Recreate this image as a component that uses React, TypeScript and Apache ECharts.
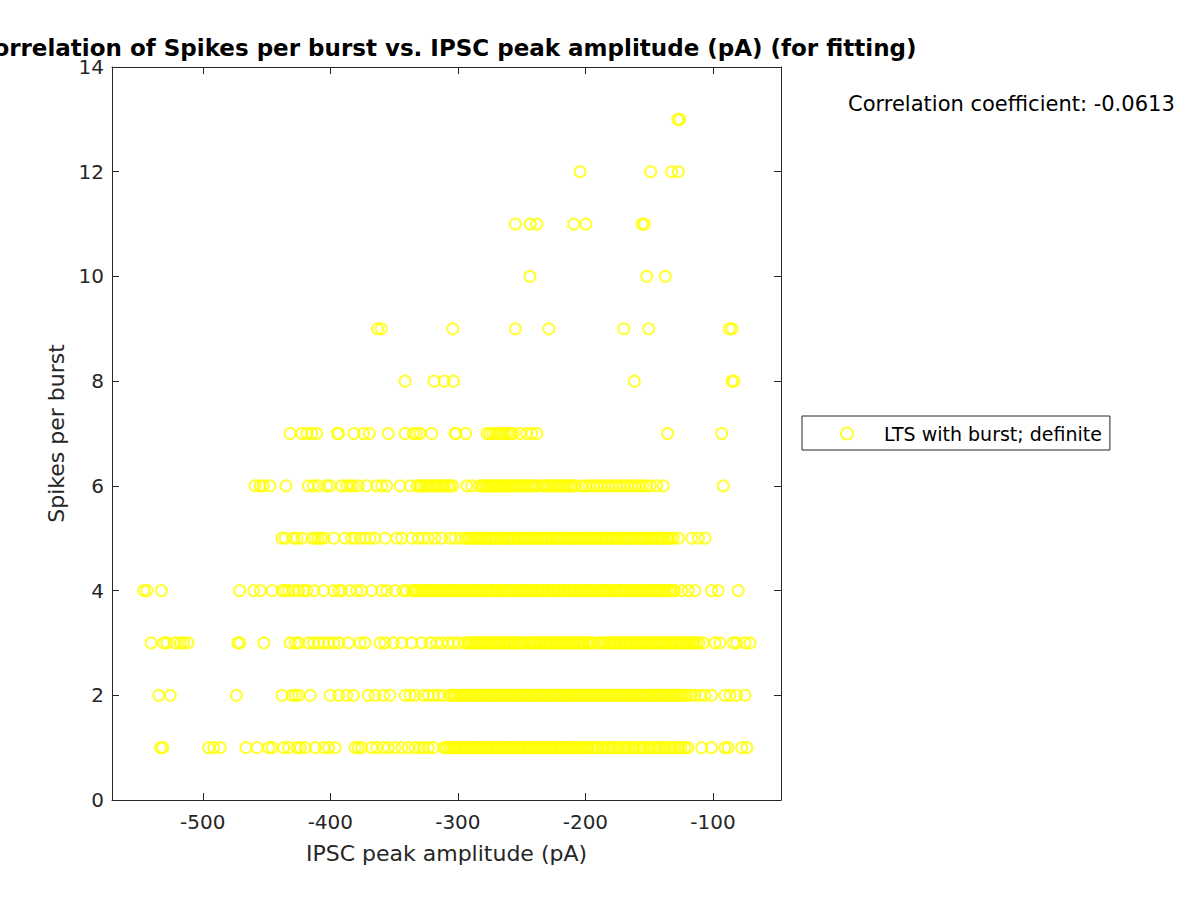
import React, { useEffect, useRef } from "react";
import * as echarts from "echarts";

// ---- Axis ticks ----
const xTickValues = [-500, -400, -300, -200, -100];
const xMin = -571.2;
const xMax = -46.6;
const yMin = 0;
const yMax = 14;
const yInterval = 2;

const titleText = "Correlation of Spikes per burst vs. IPSC peak amplitude (pA) (for fitting)";
const xAxisName = "IPSC peak amplitude (pA)";
const yAxisName = "Spikes per burst";
const seriesName = "LTS with burst; definite";
const corrText = "Correlation coefficient: -0.0613";

// ---- Data: IPSC peak amplitude (pA) values for each spikes-per-burst level ----
const ipscSpikes1 = [
  -533, -531.5, -495.4, -491.4, -486.3, -466.1, -457.5, -448.3, -445.7, -436.6, -432.6, -426.1, -423.5,
  -419.6, -411.7, -405.2, -401.3, -396.3, -380.6, -378.0, -375.4, -367.6, -363.6, -358.4, -354.5, -349.3,
  -344.0, -338.8, -333.6, -329.7, -327.1, -323.2, -319.2,
  -311, -309, -308, -306, -304, -303, -301, -299, -298, -296, -294, -293, -291, -289, -288, -286, -284,
  -283, -281, -279, -278, -276, -274, -273, -271, -269, -268, -266, -264, -263, -261, -259, -258, -256,
  -254, -253, -251, -249, -248, -246, -244, -243, -241, -239, -238, -236, -234, -233, -231, -229, -228,
  -226, -224, -223, -221, -219, -218, -216, -214, -213, -211, -209, -208, -206, -204, -203, -201,
  -199, -197, -194, -192, -190, -187, -185, -182, -180, -178, -175, -173, -170, -168, -166, -163, -161,
  -158, -156, -154, -151, -149, -146, -144, -142, -139, -137, -134, -132, -130, -127, -125, -122,
  -119.6, -108.8, -101.1, -90.6, -88.0, -77.4, -73.4,
];

const ipscSpikes2 = [
  -534.6, -525.5, -473.7, -437.9, -430.0, -427.4, -424.8, -415.7, -400.0, -393.4, -387.1, -381.9, -370.2,
  -365.0, -358.4, -353.2, -341.4, -337.5, -333.6, -327.1, -323.2, -319.2, -315.3, -311.4, -306.1,
  -305, -303, -302, -300, -298, -297, -295, -294, -292, -290, -288, -287, -285, -284, -282, -280, -279,
  -277, -275, -274, -272, -271, -269, -267, -266, -264, -262, -261, -259, -258, -256, -254, -253, -251,
  -249, -248, -246, -245, -243, -241, -240, -238, -236, -235, -233, -232, -230, -228, -227, -225, -223,
  -222, -220, -219, -217, -215, -214, -212, -210, -209, -207, -206, -204, -202, -201, -199, -197, -196,
  -194, -193, -191, -189, -188, -186, -184, -183, -181, -180, -178, -176, -175, -173, -171, -170, -168,
  -167, -165, -163, -162, -160, -158, -157, -155, -154, -152, -150, -149, -147, -145, -144, -142, -141,
  -139, -137, -136, -134, -132, -131, -129, -128, -126, -124, -122, -120, -117, -114,
  -110.1, -106.2, -101.1, -90.6, -86.6, -81.3, -74.8,
];

const ipscSpikes3 = [
  -540.6, -530.7, -528.1, -521.6, -517.6, -515.0, -511.6, -472.5, -471.0, -452.2, -431.4, -427.4, -424.8,
  -417.0, -413.0, -409.1, -405.2, -401.3, -397.3, -393.4, -385.9, -376.7, -372.8, -361.0, -357.1, -350.6,
  -344.0, -336.2, -328.3, -321.8, -316.6, -312.7, -307.4, -303.6, -299.6, -294.4,
  -292, -290, -289, -287, -285, -284, -282, -281, -279, -277, -276, -274, -272, -271, -269, -268, -266,
  -264, -263, -261, -259, -258, -256, -255, -253, -251, -250, -248, -245,
  -243, -241, -240, -238, -236, -235, -233, -231, -230, -228, -227, -225, -223, -222, -220, -218, -217,
  -215, -214, -212, -210, -209, -207, -205, -204, -202, -201, -199, -197, -196, -194,
  -189.8, -187.2,
  -185, -183, -181, -180, -178, -177, -175, -173, -172, -170, -168, -167, -165, -164, -162, -160, -159,
  -157, -155, -154, -152, -151, -149, -147, -146, -144, -142, -141, -139, -138, -136, -134, -133, -131,
  -129, -128, -126, -125, -123, -121, -120, -118, -116, -115, -113, -111,
  -107.5, -98.3, -94.4, -84.0, -81.3, -74.8, -70.9,
];

const ipscSpikes4 = [
  -546.3, -543.8, -532.5, -471.1, -460.1, -454.9, -445.7, -437.9, -435.3, -432.6, -428.7, -424.8, -420.9,
  -418.3, -413.0, -405.2, -397.3, -393.4, -391.1, -384.6, -379.3, -375.5, -367.6, -359.7, -355.8, -349.3,
  -342.8, -340.2,
  -336, -334, -333, -331, -329, -328, -326, -325, -323, -321, -320, -318, -316, -315, -313, -312, -310,
  -308, -307, -305, -303, -302, -300, -299, -297, -295, -294, -292, -290, -289, -287, -286, -284, -282,
  -281, -279, -277, -276, -274, -273, -271, -269, -268, -266, -264, -263, -261, -260, -258, -256, -255,
  -253, -251, -250, -248, -247, -245, -243, -242, -240, -238, -237, -235, -234, -232, -230, -229, -227,
  -225, -224, -222, -221, -219, -217, -216, -214, -212, -211, -209, -208, -206, -204, -203, -201, -199,
  -198, -196, -195, -193, -191, -190, -188, -186, -185, -183, -182, -180, -178, -177, -175, -173, -172,
  -170, -169, -167, -165, -164, -162, -160, -159, -157, -156, -154, -152, -151, -149, -147, -146, -144,
  -143, -141, -139, -138, -136, -134, -133, -131, -130,
  -124.5, -119.3, -114.1, -101.1, -95.8, -80.1,
];

const ipscSpikes5 = [
  -437.9, -435.3, -428.7, -426.1, -422.2, -414.4, -412.0, -409.7, -407.3, -404.9, -397.3, -388.5, -383.2,
  -380.6, -376.7, -372.8, -368.9, -365.0, -357.1, -348.0, -344.0, -336.2, -331.0, -327.1, -323.2, -317.9,
  -312.7, -306.1, -302.2, -297.0,
  -294, -292, -291, -289, -287, -286, -284, -283, -281, -279, -278, -276, -274, -273, -271, -270, -268,
  -266, -265, -263, -261, -260, -258, -257, -255, -253, -252, -250, -248, -247, -245, -244, -242, -240,
  -239, -237, -235, -234, -232, -231, -229, -227, -226, -224, -222, -221, -219, -218, -216, -214, -213,
  -211, -209, -208, -206, -205, -203, -201, -200, -198, -196, -195, -193, -192, -190, -188, -187, -185,
  -183, -182, -180, -179, -177, -175, -174, -172, -170, -169, -167, -166, -164, -162, -161, -159, -157,
  -156, -154, -153, -151, -149, -148, -146, -144, -143, -141, -140, -138, -136, -135, -133, -131,
  -127.1, -116.6, -111.4, -106.2,
];

const ipscSpikes6 = [
  -459.1, -455.1, -452.6, -447.3, -434.8, -417.3, -413.3, -409.4, -402.8, -400.2, -391.1, -387.1, -384.6,
  -382.0, -378.0, -371.5, -363.6, -359.7, -355.8, -345.3, -337.5,
  -332, -330, -328.5, -326, -324, -322.5, -320, -318, -316.5, -314, -312, -310.5, -308, -306, -304,
  -293.0, -289.1,
  -283, -281, -279, -277.5, -276, -274, -272.5, -271, -269, -267.5, -266, -264, -262.5, -261, -259,
  -257.5, -256, -254, -252, -250, -248, -246, -244, -242, -240, -238,
  -234, -232, -230, -228, -226, -224, -222, -220, -218, -216, -214, -212, -210, -208,
  -203, -200, -197, -194, -191, -188, -185, -182, -179, -176, -173, -170, -167, -164, -161, -158, -155,
  -152, -149,
  -144.0, -138.9, -91.9,
];

const ipscSpikes7 = [
  -431.6, -422.4, -418.5, -414.6, -410.7, -394.5, -393.6, -381.4, -374.1, -369.4, -354.5, -341.4, -334.9,
  -332.3, -329.7, -320.5, -302.2, -301.4, -293.8, -277.1, -274.8, -272.4, -270.1, -267.7, -265.4, -263.0,
  -260.7, -258.3, -256.7, -251.2, -246.0, -242.1, -238.1, -135.6, -93.1,
];

const ipscSpikes8 = [-341.4, -318.7, -310.6, -303.5, -161.6, -85.0, -83.5];
const ipscSpikes9 = [-363.0, -360.0, -304.0, -254.9, -228.7, -169.9, -150.3, -87.0, -85.0];
const ipscSpikes10 = [-243.4, -151.9, -137.3];
const ipscSpikes11 = [-254.9, -243.4, -238.1, -209.1, -199.5, -155.5, -153.8];
const ipscSpikes12 = [-204.2, -148.8, -132.3, -127.1];
const ipscSpikes13 = [-127.5, -126.0];

const spikeLevels = [1, 2, 3, 4, 5, 6, 7, 8, 9, 10, 11, 12, 13];
const ipscByLevel = [
  ipscSpikes1, ipscSpikes2, ipscSpikes3, ipscSpikes4, ipscSpikes5, ipscSpikes6, ipscSpikes7,
  ipscSpikes8, ipscSpikes9, ipscSpikes10, ipscSpikes11, ipscSpikes12, ipscSpikes13,
];

const FONT = "DejaVu Sans";
const AXIS_COLOR = "#262626";

export default function App() {
  const ref = useRef<HTMLDivElement>(null);

  useEffect(() => {
    document.body.style.margin = "0";
    const chart = echarts.init(ref.current as HTMLDivElement, null, { renderer: "svg" });

    const data: number[][] = [];
    spikeLevels.forEach((lvl, i) => {
      ipscByLevel[i].forEach((x) => data.push([x, lvl]));
    });

    const axisLine = { show: true, onZero: false, lineStyle: { color: AXIS_COLOR, width: 1 } };
    const tickStyle = { color: AXIS_COLOR, width: 1 };

    chart.setOption({
      animation: false,
      backgroundColor: "#ffffff",
      textStyle: { fontFamily: FONT },
      grid: { left: 112, top: 67, width: 669, height: 733, containLabel: false },
      xAxis: [
        {
          type: "value",
          position: "bottom",
          min: xMin,
          max: xMax,
          axisLine,
          axisTick: { show: true, inside: true, length: 7, customValues: xTickValues, lineStyle: tickStyle },
          axisLabel: {
            show: true,
            customValues: xTickValues,
            fontSize: 20,
            color: AXIS_COLOR,
            fontFamily: FONT,
            margin: 12,
          },
          splitLine: { show: false },
          name: xAxisName,
          nameLocation: "middle",
          nameGap: 42,
          nameTextStyle: { fontSize: 22, color: AXIS_COLOR, fontFamily: FONT },
        },
        {
          type: "value",
          position: "top",
          min: xMin,
          max: xMax,
          axisLine,
          axisTick: { show: true, inside: true, length: 7, customValues: xTickValues, lineStyle: tickStyle },
          axisLabel: { show: false },
          splitLine: { show: false },
        },
      ],
      yAxis: [
        {
          type: "value",
          position: "left",
          min: yMin,
          max: yMax,
          interval: yInterval,
          axisLine,
          axisTick: { show: true, inside: true, length: 7, lineStyle: tickStyle },
          axisLabel: { show: true, fontSize: 20, color: AXIS_COLOR, fontFamily: FONT, margin: 8 },
          splitLine: { show: false },
          name: yAxisName,
          nameLocation: "middle",
          nameGap: 40,
          nameTextStyle: { fontSize: 22, color: AXIS_COLOR, fontFamily: FONT },
        },
        {
          type: "value",
          position: "right",
          min: yMin,
          max: yMax,
          interval: yInterval,
          axisLine,
          axisTick: { show: true, inside: true, length: 7, lineStyle: tickStyle },
          axisLabel: { show: false },
          splitLine: { show: false },
        },
      ],
      legend: {
        show: true,
        data: [seriesName],
        left: 802,
        top: 416,
        orient: "vertical",
        icon: "circle",
        itemWidth: 64,
        itemHeight: 12,
        padding: [8, 8, 7, 38],
        borderColor: AXIS_COLOR,
        borderWidth: 1,
        backgroundColor: "#ffffff",
        selectedMode: false,
        textStyle: { fontSize: 19, color: "#000000", fontFamily: FONT },
        itemStyle: { color: "rgba(0,0,0,0)", borderColor: "#ffff00", borderWidth: 2 },
      },
      graphic: [
        {
          type: "text",
          x: 446.5,
          y: 48,
          silent: true,
          style: {
            text: titleText,
            fontSize: 23,
            fontWeight: "bold",
            fontFamily: FONT,
            fill: "#000000",
            align: "center",
            verticalAlign: "middle",
          },
        },
        {
          type: "text",
          x: 848,
          y: 104,
          silent: true,
          style: {
            text: corrText,
            fontSize: 21,
            fontFamily: FONT,
            fill: "#000000",
            align: "left",
            verticalAlign: "middle",
          },
        },
      ],
      series: [
        {
          name: seriesName,
          type: "scatter",
          xAxisIndex: 0,
          yAxisIndex: 0,
          symbol: "circle",
          symbolSize: 11,
          itemStyle: { color: "rgba(0,0,0,0)", borderColor: "#ffff00", borderWidth: 2 },
          emphasis: { disabled: true },
          data,
        },
      ],
    });

    return () => chart.dispose();
  }, []);

  return <div ref={ref} style={{ width: 1200, height: 900 }} />;
}
